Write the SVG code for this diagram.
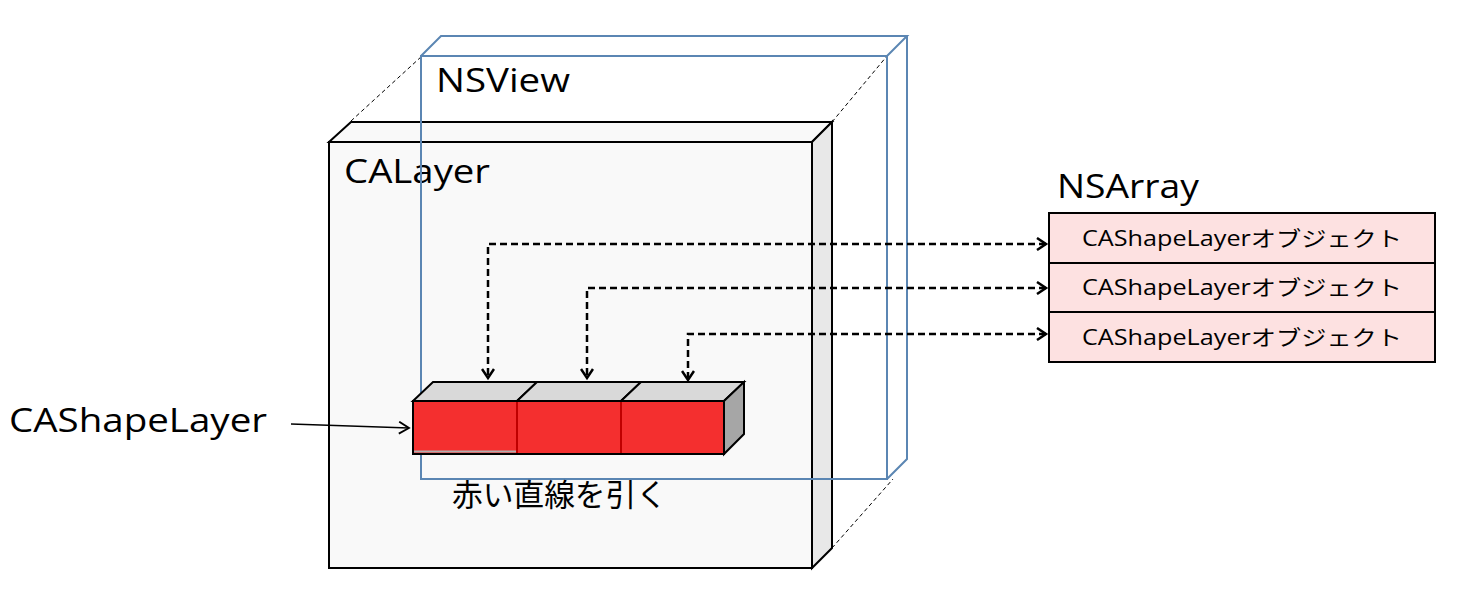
<svg xmlns="http://www.w3.org/2000/svg" width="1461" height="613" viewBox="0 0 1461 613">
<defs>
<style>
.t{font-family:"Open Sans","Noto Sans CJK JP",sans-serif;fill:#000}
.jp{font-family:"Noto Sans CJK JP",sans-serif;fill:#000}
.big{font-size:33px}
.sm{font-size:21px}
.edge{stroke:#000;stroke-width:2;stroke-linejoin:miter}
.blue{fill:none;stroke:#5b86b3;stroke-width:2}
.thin{stroke:#000;stroke-width:1;stroke-dasharray:4,3;fill:none}
.conn{fill:none;stroke:#000;stroke-width:2.5;stroke-dasharray:7,4}
.red{fill:#f42f2f;stroke:#000;stroke-width:2}
.topf{fill:#d9d9d9;stroke:#000;stroke-width:2}
.sidef{fill:#a6a6a6;stroke:#000;stroke-width:2}
.cell{fill:#fde1e1;stroke:#000;stroke-width:2}
</style>
<marker id="av" markerWidth="14" markerHeight="14" refX="10" refY="7" orient="auto-start-reverse" markerUnits="userSpaceOnUse">
<path d="M1,1 L10,7 L1,13" fill="none" stroke="#000" stroke-width="2.5"/>
</marker>
<marker id="ah" markerWidth="14" markerHeight="14" refX="11" refY="7" orient="auto" markerUnits="userSpaceOnUse">
<path d="M1,1 L11,7 L1,13" fill="none" stroke="#000" stroke-width="1.8"/>
</marker>
</defs>

<g id="calayer">
<polygon points="329,142 351,122 832,122 812,142" fill="#f9f9f9" class="edge"/>
<polygon points="812,142 832,122 832,548 812,568" fill="#e8e8e8" class="edge"/>
<rect x="329" y="142" width="483" height="426" fill="#f9f9f9" class="edge"/>
<text class="t big" x="344" y="183" textLength="146" lengthAdjust="spacingAndGlyphs">CALayer</text>
</g>

<g id="perspective">
<line class="thin" x1="351" y1="121" x2="422" y2="56"/>
<line class="thin" x1="832" y1="122" x2="887" y2="56"/>
<line class="thin" x1="832" y1="548" x2="893" y2="479"/>
</g>

<g id="nsview">
<rect class="blue" x="421" y="56" width="466" height="423"/>
<polyline class="blue" points="421,56 441,36 907,36 887,56"/>
<polyline class="blue" points="907,36 907,459 887,479"/>
<text class="t big" x="436" y="92" textLength="134" lengthAdjust="spacingAndGlyphs">NSView</text>
</g>

<g id="cashapelayers">
<polygon class="topf" points="413,401 433,382 537,382 517,401"/>
<polygon class="topf" points="517,401 537,382 641,382 621,401"/>
<polygon class="topf" points="621,401 641,382 744,382 724,401"/>
<polygon class="sidef" points="724,401 744,382 744,434 724,454"/>
<rect class="red" x="413" y="401" width="104" height="53"/>
<line x1="414" y1="451.5" x2="516" y2="451.5" stroke="#b0b0b0" stroke-width="2"/>
<rect class="red" x="517" y="401" width="104" height="53"/>
<rect class="red" x="621" y="401" width="103" height="53"/>
<line x1="517" y1="402" x2="517" y2="453" stroke="#c00000" stroke-width="2"/>
<line x1="621" y1="402" x2="621" y2="453" stroke="#c00000" stroke-width="2"/>
<text class="jp" font-size="31" x="452" y="506" textLength="215" lengthAdjust="spacingAndGlyphs">赤い直線を引く</text>
</g>

<g id="label-cashapelayer">
<text class="t big" x="9" y="432" textLength="258" lengthAdjust="spacingAndGlyphs">CAShapeLayer</text>
</g>

<g id="nsarray">
<text class="t big" x="1057" y="198" textLength="142" lengthAdjust="spacingAndGlyphs">NSArray</text>
<rect class="cell" x="1049" y="213" width="386" height="50"/>
<rect class="cell" x="1049" y="263" width="386" height="49"/>
<rect class="cell" x="1049" y="312" width="386" height="50"/>
<text class="t sm" x="1082" y="246" textLength="320" lengthAdjust="spacingAndGlyphs">CAShapeLayerオブジェクト</text>
<text class="t sm" x="1082" y="295" textLength="320" lengthAdjust="spacingAndGlyphs">CAShapeLayerオブジェクト</text>
<text class="t sm" x="1082" y="345" textLength="320" lengthAdjust="spacingAndGlyphs">CAShapeLayerオブジェクト</text>
</g>

<g id="connectors">
<line x1="291" y1="424" x2="409" y2="428" stroke="#000" stroke-width="1.5" marker-end="url(#ah)"/>
<polyline class="conn" points="1046,244 488,244 488,378" marker-start="url(#av)" marker-end="url(#av)"/>
<polyline class="conn" points="1046,288 587,288 587,378" marker-start="url(#av)" marker-end="url(#av)"/>
<polyline class="conn" points="1046,334 688,334 688,380" marker-start="url(#av)" marker-end="url(#av)"/>
</g>
</svg>
